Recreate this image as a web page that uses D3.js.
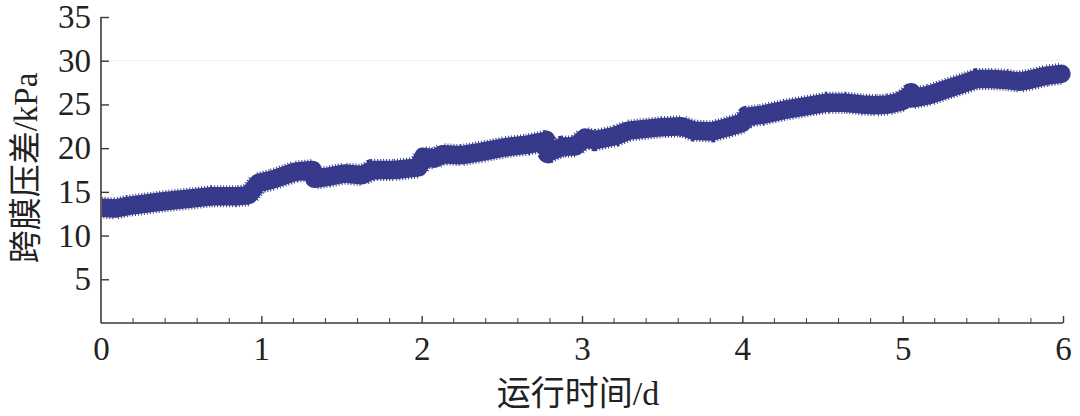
<!DOCTYPE html>
<html>
<head>
<meta charset="utf-8">
<script src="https://cdn.jsdelivr.net/npm/d3@7"></script>
<style>
  html, body { margin: 0; padding: 0; background: #fff; }
  svg { display: block; }
  text { font-family: "Liberation Serif", "Noto Sans CJK SC", serif; fill: #222; }
</style>
</head>
<body>
<svg id="chart" width="1080" height="416"></svg>
<script>
// ---- data ----
const days = [0.00, 0.09, 0.17, 0.38, 0.59, 0.69, 0.84, 0.92, 0.98, 1.07, 1.21, 1.32, 1.33, 1.42, 1.52, 1.63, 1.69, 1.83, 1.98, 2.01, 2.08, 2.13, 2.25, 2.38, 2.52, 2.66, 2.77, 2.79, 2.88, 2.96, 3.02, 3.08, 3.21, 3.29, 3.50, 3.62, 3.70, 3.81, 3.91, 4.00, 4.03, 4.12, 4.27, 4.43, 4.53, 4.64, 4.75, 4.83, 4.91, 5.00, 5.05, 5.06, 5.17, 5.28, 5.38, 5.46, 5.56, 5.65, 5.73, 5.81, 5.90, 5.99];
const tmp  = [13.2, 13.1, 13.4, 13.9, 14.3, 14.5, 14.5, 14.6, 16.0, 16.4, 17.3, 17.5, 16.5, 16.75, 17.1, 16.9, 17.5, 17.5, 17.8, 19.0, 18.8, 19.3, 19.2, 19.6, 20.1, 20.4, 20.8, 19.5, 20.2, 20.2, 21.2, 20.9, 21.4, 22.0, 22.4, 22.5, 22.0, 21.9, 22.4, 22.9, 23.6, 23.8, 24.4, 24.9, 25.2, 25.2, 25.0, 24.9, 25.0, 25.4, 26.2, 25.7, 26.1, 26.8, 27.4, 27.9, 27.9, 27.8, 27.6, 27.9, 28.3, 28.5];
const xTicks = [0, 1, 2, 3, 4, 5, 6];
const xMinorTicks = d3.range(0, 30).map(i => i / 5).filter(v => !Number.isInteger(v));
const yTicks = [5, 10, 15, 20, 25, 30, 35];
const xTitle = "运行时间/d";
const yTitle = "跨膜压差/kPa";

const svg = d3.select("#chart");
const x = d3.scaleLinear().domain([0, 6]).range([101, 1063]);
const y = d3.scaleLinear().domain([0, 35]).range([323, 17]);
const axisColor = "#3a3a3a";

svg.append("defs").append("clipPath").attr("id", "plot")
  .append("rect").attr("x", x(0) + 1).attr("y", 0)
  .attr("width", x(6) - x(0) + 20).attr("height", y(0));

// faint guide at 30
svg.append("line")
  .attr("x1", x(0)).attr("x2", x(6))
  .attr("y1", y(30)).attr("y2", y(30))
  .attr("stroke", "#efefef").attr("stroke-width", 1);

// data band
const line = d3.line().x((d, i) => x(days[i])).y(d => y(d));
const color = "#373a8b";
const band = svg.append("g").attr("clip-path", "url(#plot)");
band.append("path").datum(tmp)
  .attr("d", line)
  .attr("fill", "none").attr("stroke", color)
  .attr("stroke-width", 18.5).attr("stroke-linejoin", "round").attr("stroke-linecap", "round");
band.append("path").datum(tmp)
  .attr("d", line)
  .attr("fill", "none").attr("stroke", color)
  .attr("stroke-width", 22).attr("stroke-dasharray", "1,2").attr("stroke-linejoin", "round");

// axes
const xAxis = d3.axisBottom(x).tickValues(xTicks).tickSize(-7).tickPadding(14).tickFormat(d3.format("d"));
const gx = svg.append("g").attr("transform", `translate(0,${y(0)})`).call(xAxis);
gx.selectAll(".tick").filter(d => d === 0).select("line").remove();
gx.append("g").selectAll("line").data(xMinorTicks).join("line")
  .attr("x1", d => x(d)).attr("x2", d => x(d)).attr("y1", 0).attr("y2", -5)
  .attr("stroke", axisColor).attr("stroke-width", 1);

const yAxis = d3.axisLeft(y).tickValues(yTicks).tickSize(-8).tickPadding(10).tickFormat(d3.format("d"));
const gy = svg.append("g").attr("transform", `translate(${x(0)},0)`).call(yAxis);

[gx, gy].forEach(g => {
  g.select(".domain").attr("stroke", axisColor).attr("stroke-width", 1.6);
  g.selectAll(".tick line").attr("stroke", axisColor).attr("stroke-width", 1.4);
  g.selectAll(".tick text").attr("font-size", 33).attr("font-family", "Liberation Serif").attr("fill", "#222");
});
gx.select(".domain").attr("d", `M${x(0)},0H${x(6)}`);
gy.select(".domain").attr("d", `M0,${y(35)}V${y(0)}`);
gx.selectAll(".tick text").attr("dy", "0.71em");

// titles
svg.append("text")
  .attr("x", 578).attr("y", 405)
  .attr("text-anchor", "middle").attr("font-size", 34)
  .text(xTitle);
svg.append("text")
  .attr("transform", `translate(37,168) rotate(-90)`)
  .attr("text-anchor", "middle").attr("font-size", 33)
  .text(yTitle);
</script>
</body>
</html>
